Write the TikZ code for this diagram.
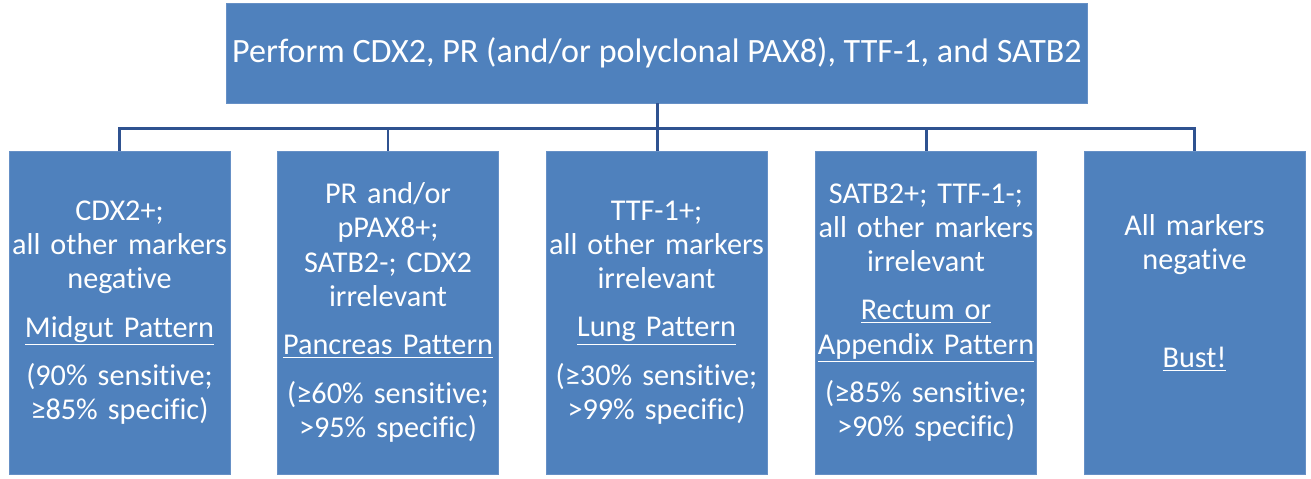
\documentclass[tikz,border=0pt]{standalone}
\usepackage{fontspec}
\setmainfont[Ligatures=NoCommon]{Carlito}
\usepackage{tikz}
\definecolor{boxblue}{HTML}{4F81BD}
\definecolor{boxedge}{HTML}{6690C6}
\definecolor{linkblue}{HTML}{2F5290}
\newcommand{\pat}[1]{\underline{#1}}

\begin{document}
\begin{tikzpicture}[x=0.02cm, y=-0.02cm,
		block/.style={draw=boxedge, line width=0.3pt, fill=boxblue, text=white, align=center},
		topblock/.style={block, minimum width=17.12cm, minimum height=2cm, font=\fontsize{19.4}{23}\selectfont},
		result/.style={block, minimum width=4.42cm, minimum height=6.46cm, text width=4.36cm, inner xsep=0.03cm, inner ysep=0pt, font=\fontsize{17.2}{19.5}\selectfont},
		link/.style={draw=linkblue, line width=1.7pt}]
			%%%%% START %%%%%
			
			\useasboundingbox (0, 0) rectangle (1311, 478);
			
			\node[topblock] (perform) at (657, 53) {Perform CDX2, PR (and/or polyclonal PAX8), TTF-1, and SATB2};
			
			\node[result] (midgut) at (119.5, 312.5) {CDX2+;\\all other markers\\negative\\[8pt]\pat{Midgut Pattern}\\[8pt](90\% sensitive;\\≥85\% specific)};
			\node[result] (pancreas) at (388, 312.5) {PR and/or\\pPAX8+;\\SATB2-; CDX2\\irrelevant\\[8pt]\pat{Pancreas Pattern}\\[8pt](≥60\% sensitive;\\>95\% specific)};
			\node[result] (lung) at (656.5, 312.5) {TTF-1+;\\all other markers\\irrelevant\\[8pt]\pat{Lung Pattern}\\[8pt](≥30\% sensitive;\\>99\% specific)};
			\node[result] (rectum) at (926, 312.5) {SATB2+; TTF-1-;\\all other markers\\irrelevant\\[8pt]\pat{Rectum or}\\\pat{Appendix Pattern}\\[8pt](≥85\% sensitive;\\>90\% specific)};
			\node[result] (bust) at (1194.5, 312.5) {All markers\\negative\\[36pt]\pat{Bust!}\\[5pt]\mbox{}};
			
			\coordinate (bus) at (657, 128);
			
			\draw[link] (perform.south) -- (perform.south |- lung.north);
			\draw[link] (midgut.north) -- (midgut.north |- bus) -- (bust.north |- bus) -- (bust.north);
			\draw[link] (pancreas.north) -- (pancreas.north |- bus);
			\draw[link] (rectum.north) -- (rectum.north |- bus);
			
			%%%%% END %%%%%
\end{tikzpicture}
\end{document}
